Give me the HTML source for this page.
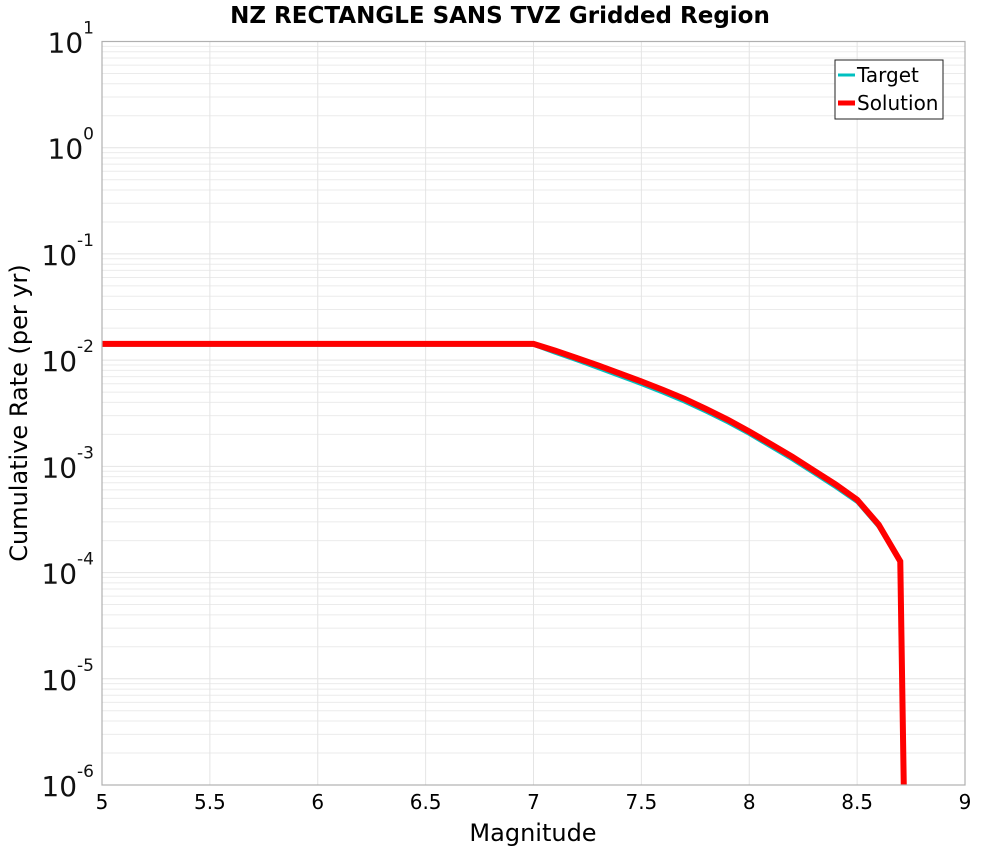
<!DOCTYPE html>
<html><head><meta charset="utf-8"><style>
body{margin:0;background:#fff;font-family:"Liberation Sans","DejaVu Sans",sans-serif}
svg text{font-family:"DejaVu Sans","Liberation Sans",sans-serif}
</style></head><body>
<svg id="chart" width="1000" height="850" xmlns="http://www.w3.org/2000/svg">
<text x="500" y="23" text-anchor="middle" font-size="23" font-weight="bold">NZ RECTANGLE SANS TVZ Gridded Region</text>
<g id="grid"></g>
<g id="series"></g>
<g id="axes"></g>
<text x="533" y="841" text-anchor="middle" font-size="24">Magnitude</text>
<text transform="translate(27,413) rotate(-90)" text-anchor="middle" font-size="24">Cumulative Rate (per yr)</text>
<g>
<rect x="835" y="60" width="108" height="59" fill="#fff" stroke="#222" stroke-width="1"/>
<line x1="838" y1="75" x2="855" y2="75" stroke="#00c0c0" stroke-width="3"/>
<text x="857" y="82" font-size="20">Target</text>
<line x1="838" y1="103" x2="855" y2="103" stroke="#ff0000" stroke-width="5"/>
<text x="857" y="110" font-size="20">Solution</text>
</g>
</svg>
<script>
const mags=[5.0,5.5,6.0,6.5,7.0,7.1,7.2,7.3,7.4,7.5,7.6,7.7,7.8,7.9,8.0,8.1,8.2,8.3,8.4,8.5,8.6,8.7,8.72];
const solutionLog=[-1.847,-1.847,-1.847,-1.847,-1.847,-1.91,-1.98,-2.05,-2.125,-2.201,-2.28,-2.365,-2.46,-2.56,-2.672,-2.79,-2.91,-3.04,-3.17,-3.314,-3.549,-3.894,-6.5];
const targetLog=[-1.86,-1.86,-1.86,-1.86,-1.86,-1.935,-2.005,-2.08,-2.155,-2.23,-2.31,-2.395,-2.49,-2.59,-2.70,-2.82,-2.94,-3.07,-3.20,-3.34,-3.575,-3.91,-6.5];
const xTicks=[5,5.5,6,6.5,7,7.5,8,8.5,9];
const yDecades=[1,0,-1,-2,-3,-4,-5,-6];
const L=102,R=965,T=41.5,B=785;
const NS="http://www.w3.org/2000/svg";
const xs=m=>L+(m-5)/4*(R-L);
const ys=lg=>T+(1-lg)/7*(B-T);
function mk(t,a,p){const e=document.createElementNS(NS,t);for(const k in a)e.setAttribute(k,a[k]);p.appendChild(e);return e;}
const grid=document.getElementById('grid'),axes=document.getElementById('axes'),ser=document.getElementById('series');
for(let d=-6;d<1;d++){for(let k=2;k<10;k++){const y=ys(d+Math.log10(k));const l=mk('line',{x1:L,x2:R,y1:y,y2:y,stroke:'#ebebeb','stroke-width':1},grid);

}}
yDecades.forEach(d=>{const y=ys(d);const l=mk('line',{x1:L,x2:R,y1:y,y2:y,stroke:'#e4e4e4','stroke-width':1},grid);


const t=mk('text',{x:L-8,y:y+11,'text-anchor':'end','font-size':28,fill:'#111'},axes);


t.textContent='10';const s=mk('tspan',{dy:-19,'font-size':17},t);s.textContent=String(d);});
xTicks.forEach(v=>{const x=xs(v);const l=mk('line',{x1:x,x2:x,y1:T,y2:B,stroke:'#e4e4e4','stroke-width':1},grid);


const t=mk('text',{x:x,y:809,'text-anchor':'middle','font-size':20},axes);


t.textContent=String(v);});
const fr=mk('rect',{x:L,y:T,width:R-L,height:B-T,fill:'none',stroke:'#b0b0b0','stroke-width':1.2},axes);


mk('clipPath',{id:'cp'},ser).appendChild(document.createElementNS(NS,'rect'));
const cr=ser.querySelector('#cp rect');cr.setAttribute('x',L);cr.setAttribute('y',T);cr.setAttribute('width',R-L);cr.setAttribute('height',B-T);
function line(arr,col,w,name){const p=mk('polyline',{points:mags.map((m,i)=>xs(m)+','+ys(arr[i])).join(' '),fill:'none',stroke:col,'stroke-width':w,'stroke-linejoin':'miter','clip-path':'url(#cp)'},ser);

}
line(targetLog,'#00c0c0',3,'target-line');
line(solutionLog,'#ff0000',6,'solution-line');
</script>
</body></html>
